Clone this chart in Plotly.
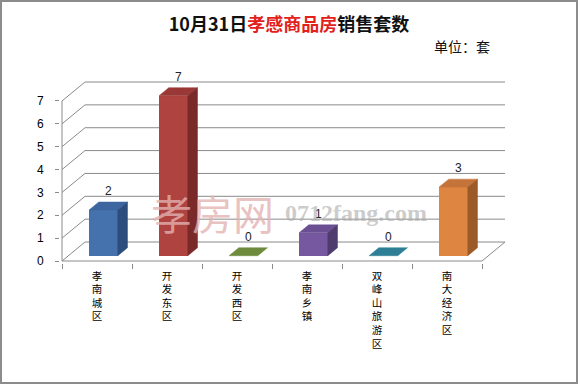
import plotly.graph_objects as go

# ---- data ----
categories = ["孝南城区", "开发东区", "开发西区", "孝南乡镇", "双峰山旅游区", "南大经济区"]
values = [2, 7, 0, 1, 0, 3]
y_ticks = [0, 1, 2, 3, 4, 5, 6, 7]

front_colors = ["#4572AC", "#AE4340", "#7D9A45", "#7558A0", "#348CA4", "#DE8641"]
top_colors = ["#3D66A0", "#9A3835", "#6E8B3D", "#6A4F92", "#2E7F96", "#C4733A"]
side_colors = ["#2D4D7C", "#7A2B29", "#566E2E", "#4F3B6E", "#22606F", "#9B5A28"]

# ---- 3D geometry (depth expressed in axis units) ----
DX, DY = 0.329, 0.83          # full depth offset of the back wall
D0, D1 = 0.28, 0.70           # bar depth span (fraction of full depth)
BW = 0.41                     # bar width
GRID = "#8A8A8A"

fig = go.Figure()

shapes = []
for v in y_ticks:
    shapes.append(dict(type="line", xref="x", yref="y", x0=-0.5 + DX, x1=5.5 + DX,
                       y0=v + DY, y1=v + DY, line=dict(color=GRID, width=1), layer="below"))
    shapes.append(dict(type="line", xref="x", yref="y", x0=-0.5, x1=-0.5 + DX,
                       y0=v, y1=v + DY, line=dict(color=GRID, width=1), layer="below"))
shapes.append(dict(type="line", xref="x", yref="y", x0=5.5, x1=5.5 + DX, y0=0, y1=DY,
                   line=dict(color=GRID, width=1), layer="below"))
shapes.append(dict(type="line", xref="x", yref="y", x0=-0.5, x1=5.5, y0=0, y1=0,
                   line=dict(color=GRID, width=1), layer="below"))
shapes.append(dict(type="line", xref="x", yref="y", x0=-0.5, x1=-0.5, y0=0, y1=7,
                   line=dict(color=GRID, width=1), layer="below"))
shapes.append(dict(type="rect", xref="paper", yref="paper", x0=-0.132, x1=1.1566,
                   y0=-0.656, y1=1.432, line=dict(color="#8C8C8C", width=2)))

xs = list(range(len(categories)))
fig.add_trace(go.Bar(
    x=[i + D0 * DX for i in xs], y=values, base=[D0 * DY] * len(values),
    width=BW, marker=dict(color=front_colors, line=dict(width=0)),
    hoverinfo="skip", showlegend=False))

for i, v in enumerate(values):
    xl, xr = i - BW / 2, i + BW / 2
    top_x = [xl + D0 * DX, xr + D0 * DX, xr + D1 * DX, xl + D1 * DX, xl + D0 * DX]
    top_y = [v + D0 * DY, v + D0 * DY, v + D1 * DY, v + D1 * DY, v + D0 * DY]
    fig.add_trace(go.Scatter(x=top_x, y=top_y, fill="toself", mode="lines",
                             line=dict(width=0.5, color=top_colors[i]), fillcolor=top_colors[i],
                             hoverinfo="skip", showlegend=False))
    if v > 0:
        side_x = [xr + D0 * DX, xr + D1 * DX, xr + D1 * DX, xr + D0 * DX, xr + D0 * DX]
        side_y = [D0 * DY, D1 * DY, v + D1 * DY, v + D0 * DY, D0 * DY]
        fig.add_trace(go.Scatter(x=side_x, y=side_y, fill="toself", mode="lines",
                                 line=dict(width=0.5, color=side_colors[i]), fillcolor=side_colors[i],
                                 hoverinfo="skip", showlegend=False))

annotations = []
for i, v in enumerate(values):
    annotations.append(dict(x=i + (D0 + D1) / 2 * DX, y=v + D1 * DY, xref="x", yref="y",
                            text=str(v), showarrow=False, yanchor="middle", yshift=11,
                            font=dict(size=12, color="#222222", family="Liberation Sans")))

annotations.append(dict(x=0.899, y=1.186, xref="paper", yref="paper", text="单位：套",
                        showarrow=False, xanchor="center", yanchor="middle",
                        font=dict(size=14, color="#111111", family="Noto Sans CJK SC")))
annotations.append(dict(x=1.657, y=2.14, xref="x", yref="y", text="孝房网", showarrow=False,
                        font=dict(size=41, color="rgba(228,178,178,0.8)", family="Noto Sans CJK SC")))
annotations.append(dict(x=3.7, y=2.1, xref="x", yref="y", text="<b>0712fang.com</b>", showarrow=False,
                        font=dict(size=24, color="rgba(170,170,170,0.6)", family="Liberation Serif")))

tick_text = ["<br>".join(list(c)) for c in categories]

fig.update_layout(
    width=581, height=386,
    margin=dict(l=60, r=74, t=80, b=123),
    paper_bgcolor="white", plot_bgcolor="white",
    title=dict(text='<b>10月31日<span style="color:#E3211C">孝感商品房</span>销售套数</b>',
               x=289 / 581, xanchor="center", y=1 - 25 / 386, yanchor="middle",
               font=dict(size=18, color="#111111", family="Noto Sans CJK SC")),
    xaxis=dict(range=[-0.5 - 2 / 70, -0.5 - 2 / 70 + 447 / 70], tickmode="array",
               tickvals=xs, ticktext=tick_text, ticks="", showgrid=False, zeroline=False,
               showline=False, ticklabelstandoff=5,
               tickfont=dict(size=10.5, color="#000000", family="Noto Sans CJK SC"),
               minor=dict(tickmode="array", tickvals=[k - 0.5 for k in range(7)], ticks="outside",
                          ticklen=5, tickcolor=GRID, tickwidth=1, showgrid=False)),
    yaxis=dict(range=[-2 / 22.86, 181 / 22.86], tickmode="array", tickvals=y_ticks,
               ticks="outside", ticklen=4, tickcolor=GRID, showgrid=False, zeroline=False,
               showline=False, ticklabelstandoff=9,
               tickfont=dict(size=12, color="#000000", family="Liberation Sans")),
    shapes=shapes, annotations=annotations, bargap=0,
)

fig.write_html("out.html", config={"displayModeBar": False},
               post_script="document.body.style.margin='0';document.body.style.overflow='hidden';")
